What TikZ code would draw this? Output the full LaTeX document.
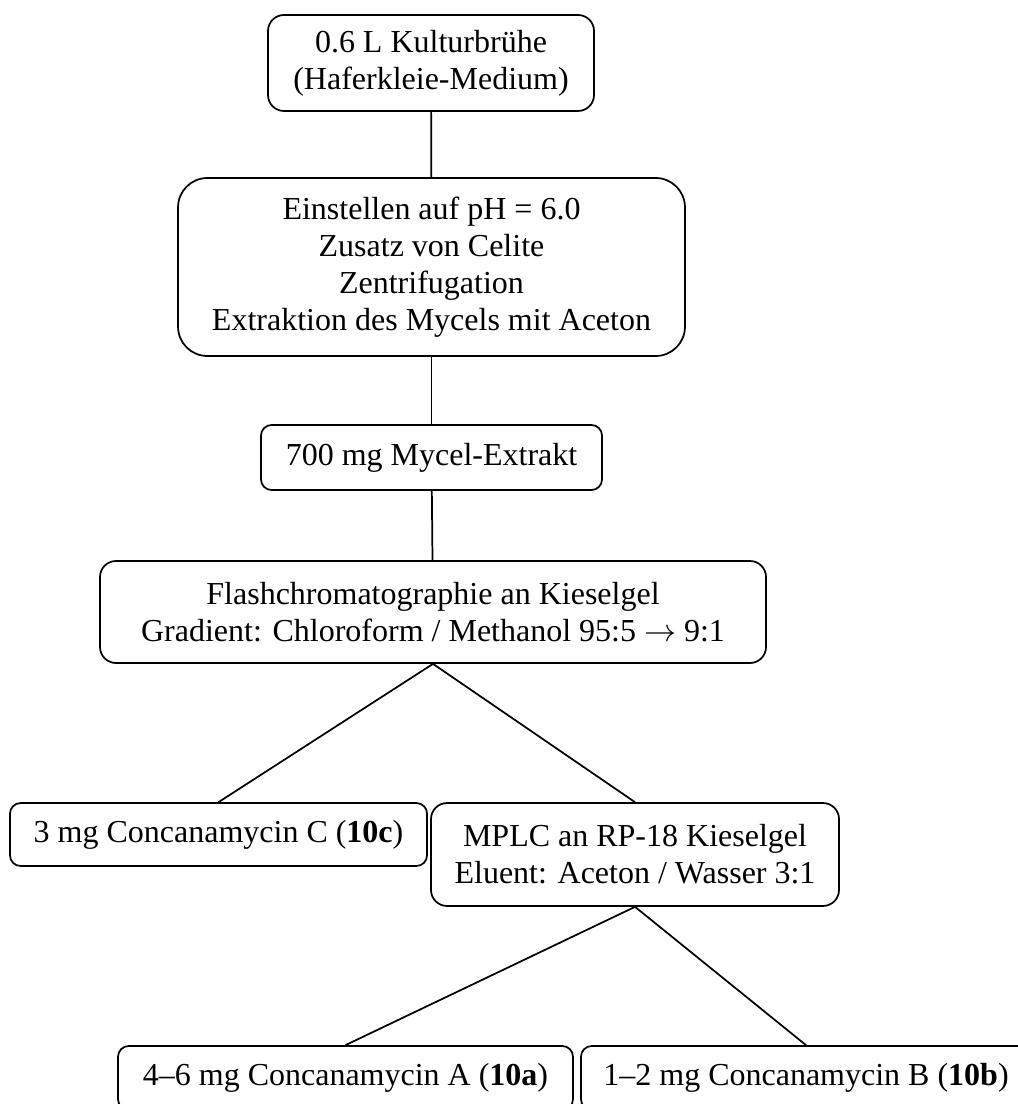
\documentclass[tikz,border=0pt]{standalone}
\usepackage{fontspec}
\setmainfont{Liberation Serif}
\usetikzlibrary{positioning}
\tikzset{
  stage/.style={draw,line width=0.65pt,align=center,inner sep=0pt,
    font=\fontsize{12}{13.8}\selectfont},
  link/.style={line width=0.65pt}
}
\newcommand*{\cpd}[1]{(\textbf{#1})}

\begin{document}
\begin{tikzpicture}[x=0.375pt,y=-0.375pt]
\useasboundingbox (0,0) rectangle (1018,1104);
% main line
\node[stage,minimum width=122.25pt,minimum height=36pt,rounded corners=6pt] (kultur) at (431,63)
  {0.6 L Kulturbrühe\\(Haferkleie-Medium)};
\node[stage,minimum width=190.1pt,minimum height=66.75pt,rounded corners=11pt] (aufarb) at (431.5,267)
  {Einstellen auf pH = 6.0\\Zusatz von Celite\\Zentrifugation\\Extraktion des Mycels mit Aceton};
\node[stage,minimum width=127.9pt,minimum height=24.4pt,rounded corners=4pt] (extrakt) at (431.5,457.5)
  {700 mg Mycel-Extrakt};
\node[stage,minimum width=249.75pt,minimum height=38.25pt,rounded corners=6pt] (flash) at (433,612)
  {Flashchromatographie an Kieselgel\\Gradient: Chloroform / Methanol 95:5 $\rightarrow$ 9:1};
% fractions
\node[stage,minimum width=156.4pt,minimum height=23.6pt,rounded corners=4pt] (concC) at (218.5,834.5)
  {3 mg Concanamycin C \cpd{10c}};
\node[stage,minimum width=153pt,minimum height=38.6pt,rounded corners=6pt] (mplc) at (635,854.5)
  {MPLC an RP-18 Kieselgel\\Eluent: Aceton / Wasser 3:1};
\node[stage,minimum width=170.6pt,minimum height=24pt,rounded corners=4pt] (concA) at (345.5,1078)
  {4–6 mg Concanamycin A \cpd{10a}};
\node[stage,minimum width=168.75pt,minimum height=24pt,rounded corners=4pt] (concB) at (806,1078)
  {1–2 mg Concanamycin B \cpd{10b}};
\draw[link] (kultur) -- (aufarb);
\draw[link] (aufarb) -- (extrakt);
\draw[link] (extrakt) -- (flash);
\draw[link] (concC.north) -- (flash.south) -- (mplc.north);
\draw[link] (concA.north) -- (mplc.south) -- (concB.north);
\end{tikzpicture}
\end{document}
